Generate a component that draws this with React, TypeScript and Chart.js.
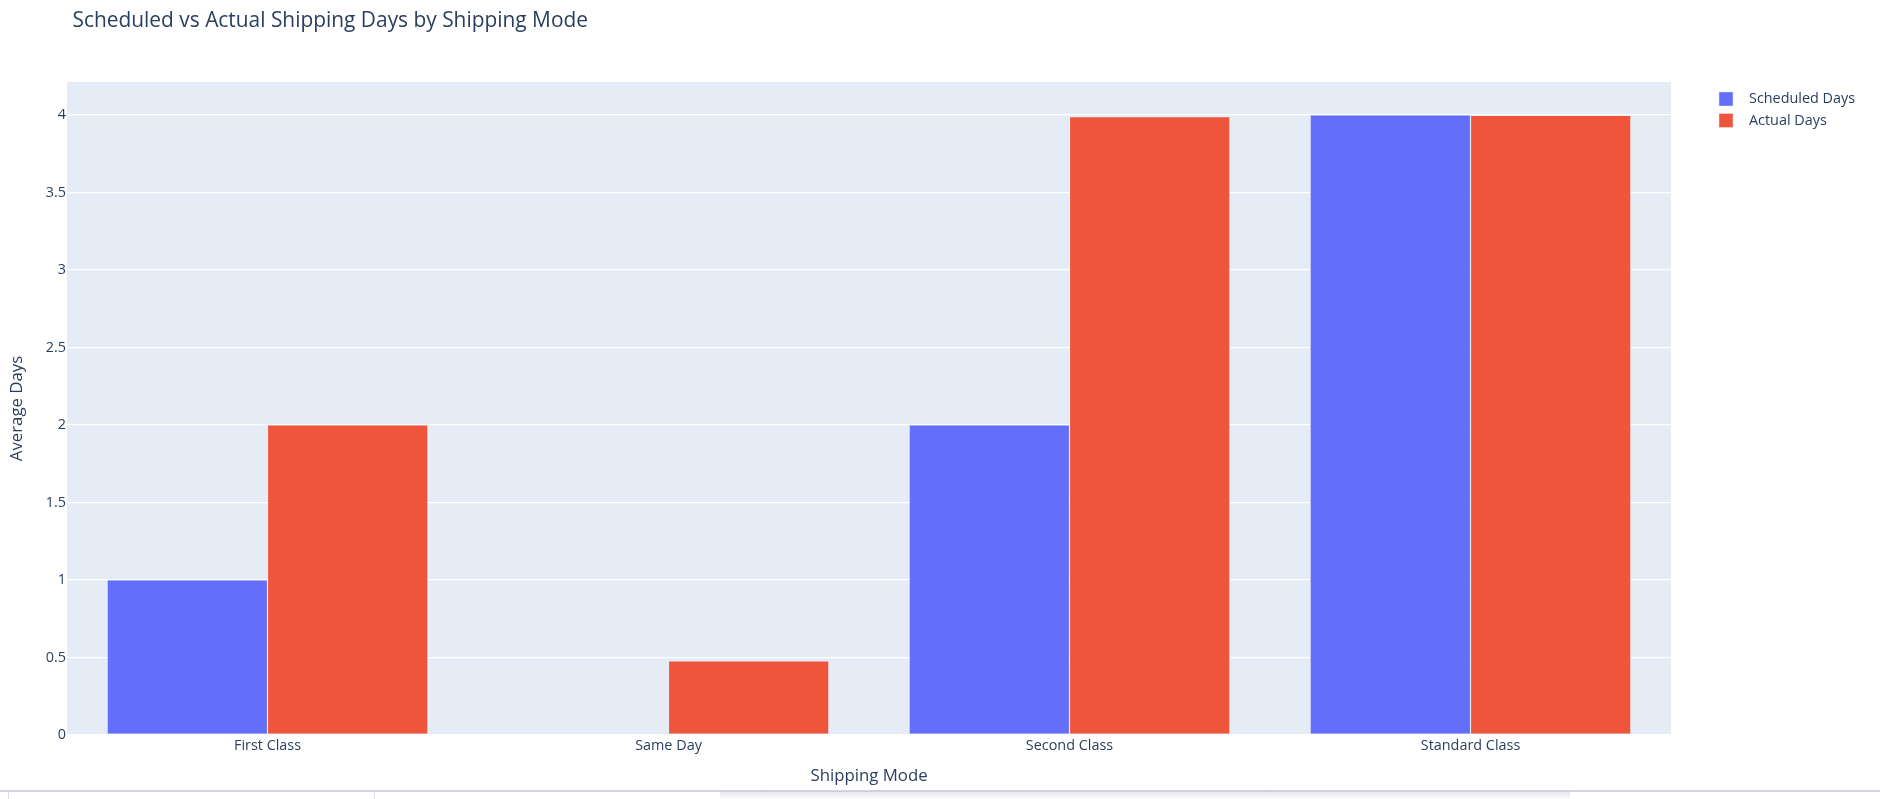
import React, { useEffect, useRef } from "react";
import { Chart, registerables } from "chart.js";

Chart.register(...registerables);

const chartTitle = "Scheduled vs Actual Shipping Days by Shipping Mode";
const shippingModes = ["First Class", "Same Day", "Second Class", "Standard Class"];
const scheduledDays = [1, 0, 2, 4];
const actualDays = [2.0, 0.478, 3.99, 3.997];
const yTicks = [0, 0.5, 1, 1.5, 2, 2.5, 3, 3.5, 4];
const seriesNames = ["Scheduled Days", "Actual Days"];
const seriesColors = ["#636EFA", "#EF553B"];
const yMax = 4.213;
const xTitle = "Shipping Mode";
const yTitle = "Average Days";

const FONT = '"Open Sans", verdana, arial, sans-serif';
const TEXT = "#2a3f5f";
const PLOT_BG = "#E5ECF6";

const W = 1880;
const H = 790;
const AREA_LEFT = 67;
const AREA_RIGHT = 1671;
const AREA_TOP = 82;
const AREA_BOTTOM = 735;

export default function App() {
  const ref = useRef<HTMLCanvasElement | null>(null);

  useEffect(() => {
    if (!ref.current) return;
    const bgPlugin = {
      id: "plotBg",
      beforeDraw(chart: any) {
        const { ctx, chartArea } = chart;
        ctx.save();
        ctx.fillStyle = PLOT_BG;
        ctx.fillRect(chartArea.left, chartArea.top, chartArea.right - chartArea.left, chartArea.bottom - chartArea.top);
        ctx.restore();
      },
      afterDraw(chart: any) {
        const { ctx } = chart;
        ctx.save();
        ctx.fillStyle = TEXT;
        ctx.font = `20.9px ${FONT}`;
        ctx.textBaseline = "alphabetic";
        ctx.textAlign = "left";
        ctx.fillText(chartTitle, 72.5, 26.5);
        // legend
        ctx.font = `14.4px ${FONT}`;
        ctx.textBaseline = "middle";
        seriesNames.forEach((name, i) => {
          const cy = 99 + i * 21.5;
          ctx.fillStyle = seriesColors[i];
          ctx.fillRect(1719, cy - 7, 14, 14);
          ctx.strokeStyle = "rgba(229,236,246,0.8)";
          ctx.lineWidth = 0.6;
          ctx.strokeRect(1719, cy - 7, 14, 14);
          ctx.fillStyle = TEXT;
          ctx.fillText(name, 1749, cy);
        });
        ctx.restore();
      },
    };

    const chart = new Chart(ref.current, {
      type: "bar",
      data: {
        labels: shippingModes,
        datasets: [
          {
            label: seriesNames[0],
            data: scheduledDays,
            backgroundColor: seriesColors[0],
            borderColor: PLOT_BG,
            borderWidth: 0.6,
            categoryPercentage: 0.8,
            barPercentage: 1.0,
          },
          {
            label: seriesNames[1],
            data: actualDays,
            backgroundColor: seriesColors[1],
            borderColor: PLOT_BG,
            borderWidth: 0.6,
            categoryPercentage: 0.8,
            barPercentage: 1.0,
          },
        ],
      },
      options: {
        responsive: false,
        animation: false,
        devicePixelRatio: 1,
        layout: {
          padding: { left: 0, top: AREA_TOP, right: W - AREA_RIGHT, bottom: 0 },
        },
        plugins: {
          legend: { display: false },
          title: { display: false },
          tooltip: { enabled: false },
        },
        scales: {
          x: {
            grid: { display: false, drawTicks: false },
            border: { display: false },
            ticks: {
              color: TEXT,
              font: { family: FONT, size: 14.4 },
              padding: 2,
              maxRotation: 0,
            },
            title: {
              display: true,
              text: xTitle,
              color: TEXT,
              font: { family: FONT, size: 16.8 },
              padding: { top: 0, bottom: 4 },
            },
            afterFit(scale: any) {
              scale.height = H - AREA_BOTTOM;
            },
          },
          y: {
            min: 0,
            max: yMax,
            grid: {
              color: "#ffffff",
              lineWidth: (c: any) => (c.tick && c.tick.value === 0 ? 2.4 : 1.2),
              drawTicks: false,
            },
            border: { display: false },
            ticks: {
              color: TEXT,
              font: { family: FONT, size: 14.4 },
              padding: 1,
              callback: (v: any) => String(v),
            },
            afterBuildTicks(axis: any) {
              axis.ticks = yTicks.map((v) => ({ value: v }));
            },
            title: {
              display: true,
              text: yTitle,
              color: TEXT,
              font: { family: FONT, size: 16.8 },
              padding: { top: 7, bottom: 0 },
            },
            afterFit(scale: any) {
              scale.width = AREA_LEFT;
            },
          },
        },
      },
      plugins: [bgPlugin],
    });
    return () => chart.destroy();
  }, []);

  return (
    <div style={{ position: "absolute", left: 0, top: 0, width: W, height: 799, background: "#fff", overflow: "hidden" }}>
      <canvas ref={ref} width={W} height={H} style={{ display: "block", width: W, height: H }} />
      <div style={{ position: "absolute", left: 0, top: 790, width: W, height: 1.5, background: "#d4d4de" }} />
      <div style={{ position: "absolute", left: 8, top: 791, width: 1, height: 8, background: "#e0e0e6" }} />
      <div style={{ position: "absolute", left: 374, top: 791, width: 1, height: 8, background: "#e0e0e6" }} />
      <div
        style={{
          position: "absolute",
          left: 720,
          top: 791,
          width: 850,
          height: 8,
          background: "linear-gradient(to bottom, rgba(200,200,215,0.5), rgba(240,240,245,0.2))",
        }}
      />
    </div>
  );
}
